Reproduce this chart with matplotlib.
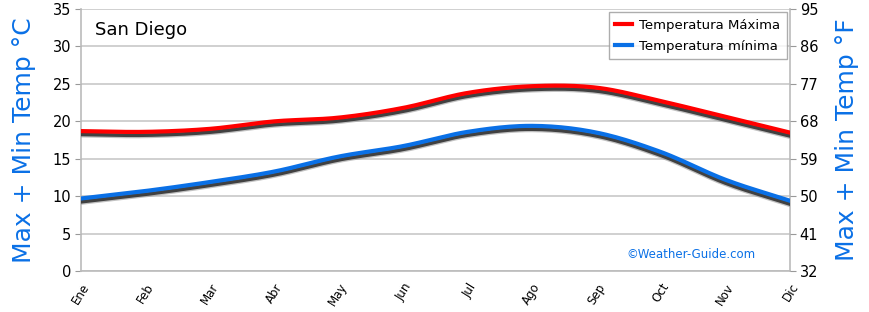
import numpy as np
import matplotlib.pyplot as plt
import matplotlib.patheffects as pe

months = ['Ene', 'Feb', 'Mar', 'Abr', 'May', 'Jun', 'Jul', 'Ago', 'Sep', 'Oct', 'Nov', 'Dic']
temp_max = [18.7, 18.6, 19.0, 20.0, 20.5, 21.8, 23.8, 24.7, 24.5, 22.7, 20.6, 18.5]
temp_min = [9.7, 10.7, 11.9, 13.3, 15.3, 16.7, 18.6, 19.4, 18.5, 15.9, 12.2, 9.4]
f_ticks = [32, 41, 50, 59, 68, 77, 86, 95]

RED = '#FF0000'
BLUE = '#0A70E6'
GRID = '#C8C8C8'


def smooth(x, y, n=20):
    # Catmull-Rom curve through the points, only for drawing
    x = np.asarray(x, float)
    y = np.asarray(y, float)
    px = np.concatenate([[2 * x[0] - x[1]], x, [2 * x[-1] - x[-2]]])
    py = np.concatenate([[2 * y[0] - y[1]], y, [2 * y[-1] - y[-2]]])
    xs, ys = [], []
    t = np.linspace(0, 1, n, endpoint=False)
    for i in range(1, len(px) - 2):
        for p, out in ((px, xs), (py, ys)):
            p0, p1, p2, p3 = p[i - 1], p[i], p[i + 1], p[i + 2]
            out.append(0.5 * (2 * p1 + (-p0 + p2) * t
                              + (2 * p0 - 5 * p1 + 4 * p2 - p3) * t ** 2
                              + (-p0 + 3 * p1 - 3 * p2 + p3) * t ** 3))
    xs.append([x[-1]])
    ys.append([y[-1]])
    return np.concatenate(xs), np.concatenate(ys)


fig = plt.figure(figsize=(8.7, 3.12), dpi=100)
ax = fig.add_axes([0.093, 0.131, 0.815, 0.840])

x = np.arange(len(months))
shadow = [pe.SimpleLineShadow(offset=(0, -2.4), shadow_color='#9a9a9a', alpha=0.6, linewidth=4.4),
          pe.SimpleLineShadow(offset=(0, -2.4), shadow_color='#333333', alpha=0.9, linewidth=2.6),
          pe.Normal()]

xs, ys = smooth(x, temp_max)
ax.plot(xs, ys, color=RED, lw=3.0, label='Temperatura Máxima', path_effects=shadow, zorder=3)
xs, ys = smooth(x, temp_min)
ax.plot(xs, ys, color=BLUE, lw=3.0, label='Temperatura mínima', path_effects=shadow, zorder=3)

ax.set_xlim(0, len(months) - 1)
ax.set_ylim(0, 35)
ax.set_yticks(range(0, 36, 5))
ax.set_xticks(x)
ax.set_xticklabels(months, rotation=58, ha='right', va='top', fontsize=8.5,
                   rotation_mode='anchor')
ax.tick_params(axis='x', length=0, pad=7)
ax.tick_params(axis='y', length=4, color='#999999', labelsize=10.5, pad=3)
ax.yaxis.grid(True, color=GRID, lw=1.2)
ax.set_axisbelow(True)
for s in ('left', 'right', 'bottom'):
    ax.spines[s].set_color('#BBBBBB')
    ax.spines[s].set_linewidth(1.2)
ax.spines['top'].set_visible(False)

ax.set_ylabel('Max + Min Temp °C', color=BLUE, fontsize=18, labelpad=12)

ax2 = ax.twinx()
ax2.set_ylim(f_ticks[0], f_ticks[-1])
ax2.set_yticks(f_ticks)
ax2.tick_params(axis='y', length=4, color='#999999', labelsize=10.5, pad=3)
for s in ax2.spines.values():
    s.set_visible(False)
ax2.set_ylabel('Max + Min Temp °F', color=BLUE, fontsize=18, labelpad=12)

ax.text(0.02, 0.955, 'San Diego', transform=ax.transAxes, fontsize=13, va='top', ha='left')
ax.text(0.86, 0.065, '©Weather-Guide.com', transform=ax.transAxes, fontsize=8.5,
        color=BLUE, ha='center', va='center')

leg = ax.legend(loc='upper right', fontsize=9.5, frameon=True, fancybox=False,
                edgecolor='#999999', handlelength=1.3, borderaxespad=0.25,
                labelspacing=0.6, borderpad=0.5, handletextpad=0.5)
for h in leg.get_lines():
    h.set_path_effects([])
    h.set_linewidth(3)

fig.savefig('out.png', dpi=100)
